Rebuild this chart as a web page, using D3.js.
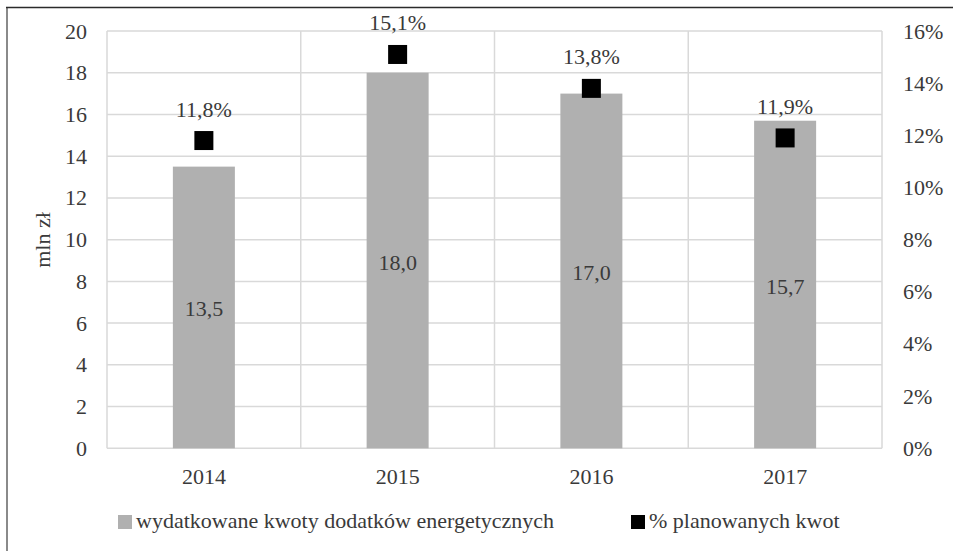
<!DOCTYPE html>
<html>
<head>
<meta charset="utf-8">
<script src="https://cdn.jsdelivr.net/npm/d3@7"></script>
<style>
  html, body { margin: 0; padding: 0; background: #fff; }
  svg { display: block; }
</style>
</head>
<body>
<svg id="chart" width="953" height="551"></svg>
<script>
// Dane: wydatki na dodatki energetyczne i ich udział w kwotach planowanych
const years = ["2014", "2015", "2016", "2017"];
const amounts = [13.5, 18.0, 17.0, 15.7];          // mln zł
const shares = [11.8, 15.1, 13.8, 11.9];           // % planowanych kwot
const leftTicks = [0, 2, 4, 6, 8, 10, 12, 14, 16, 18, 20];
const rightTicks = [0, 2, 4, 6, 8, 10, 12, 14, 16];
const seriesNames = ["wydatkowane kwoty dodatków energetycznych", "% planowanych kwot"];
const yTitle = "mln zł";

const W = 953, H = 551;
const plot = { left: 107, right: 882, top: 31, bottom: 448.3 };
const barColor = "#b0b0b0";
const gridColor = "#d9d9d9";
const FONT = '"Liberation Serif", "Times New Roman", serif';
const FS = 22;
const TXT = "#3a3a3a";

const pl = d3.formatLocale({ decimal: ",", thousands: " ", grouping: [3], currency: ["", " zł"] });
const fmt1 = pl.format(".1f");

const svg = d3.select("#chart");

// Wspólny styl tekstu
function label(sel) {
  return sel.style("font-family", FONT).style("font-size", FS + "px").attr("fill", TXT);
}

// Ramka wykresu: lewa i górna krawędź
svg.append("line").attr("x1", 7).attr("x2", 7).attr("y1", 7).attr("y2", H)
  .attr("stroke", "#8a8a8a").attr("stroke-width", 2);
svg.append("line").attr("x1", 6).attr("x2", W).attr("y1", 7.5).attr("y2", 7.5)
  .attr("stroke", "#2b2b2b").attr("stroke-width", 1.5);

const x = d3.scaleBand().domain(years).range([plot.left, plot.right]).padding(0);
const y = d3.scaleLinear().domain([0, 20]).range([plot.bottom, plot.top]);
const y2 = d3.scaleLinear().domain([0, 16]).range([plot.bottom, plot.top]);
const barW = x.bandwidth() * 0.32;

// Siatka pozioma
svg.append("g").selectAll("line").data(leftTicks).join("line")
  .attr("x1", plot.left).attr("x2", plot.right)
  .attr("y1", d => y(d)).attr("y2", d => y(d))
  .attr("stroke", gridColor).attr("stroke-width", 1.5);

// Siatka pionowa na granicach kategorii
const vLines = years.map(d => x(d)).concat([plot.right]);
svg.append("g").selectAll("line").data(vLines).join("line")
  .attr("x1", d => d).attr("x2", d => d)
  .attr("y1", plot.top).attr("y2", plot.bottom)
  .attr("stroke", gridColor).attr("stroke-width", 1.5);

// Słupki
svg.append("g").selectAll("rect").data(years).join("rect")
  .attr("x", (d) => x(d) + x.bandwidth() / 2 - barW / 2)
  .attr("width", barW)
  .attr("y", (d, i) => y(amounts[i]))
  .attr("height", (d, i) => y(0) - y(amounts[i]))
  .attr("fill", barColor);

// Etykiety wartości w słupkach
svg.append("g").selectAll("text").data(years).join("text")
  .attr("x", d => x(d) + x.bandwidth() / 2)
  .attr("y", (d, i) => y(amounts[i] / 2) + 9)
  .attr("text-anchor", "middle")
  .call(label)
  .text((d, i) => fmt1(amounts[i]));

// Znaczniki procentowe
const ms = 19;
svg.append("g").selectAll("rect").data(years).join("rect")
  .attr("x", d => x(d) + x.bandwidth() / 2 - ms / 2)
  .attr("y", (d, i) => y2(shares[i]) - ms / 2)
  .attr("width", ms).attr("height", ms)
  .attr("fill", "#000");

svg.append("g").selectAll("text").data(years).join("text")
  .attr("x", d => x(d) + x.bandwidth() / 2)
  .attr("y", (d, i) => y2(shares[i]) - 24)
  .attr("text-anchor", "middle")
  .call(label)
  .text((d, i) => fmt1(shares[i]) + "%");

// Oś lewa
svg.append("g").selectAll("text").data(leftTicks).join("text")
  .attr("x", 87).attr("y", d => y(d) + 7.5)
  .attr("text-anchor", "end")
  .call(label)
  .text(d => d);

// Oś prawa
svg.append("g").selectAll("text").data(rightTicks).join("text")
  .attr("x", 903).attr("y", d => y2(d) + 7.5)
  .attr("text-anchor", "start")
  .call(label)
  .text(d => d + "%");

// Oś kategorii
svg.append("g").selectAll("text").data(years).join("text")
  .attr("x", d => x(d) + x.bandwidth() / 2)
  .attr("y", 484)
  .attr("text-anchor", "middle")
  .call(label)
  .text(d => d);

// Tytuł osi Y
svg.append("text")
  .attr("transform", "translate(50,240) rotate(-90)")
  .attr("text-anchor", "middle")
  .call(label)
  .text(yTitle);

// Legenda
const legend = [
  { x: 118, color: barColor, label: seriesNames[0] },
  { x: 631, color: "#000", label: seriesNames[1] }
];
const lg = svg.append("g").selectAll("g").data(legend).join("g");
lg.append("rect")
  .attr("x", d => d.x).attr("y", 515).attr("width", 14).attr("height", 14)
  .attr("fill", d => d.color);
lg.append("text")
  .attr("x", d => d.x + 18).attr("y", 528)
  .call(label)
  .text(d => d.label);
</script>
</body>
</html>
